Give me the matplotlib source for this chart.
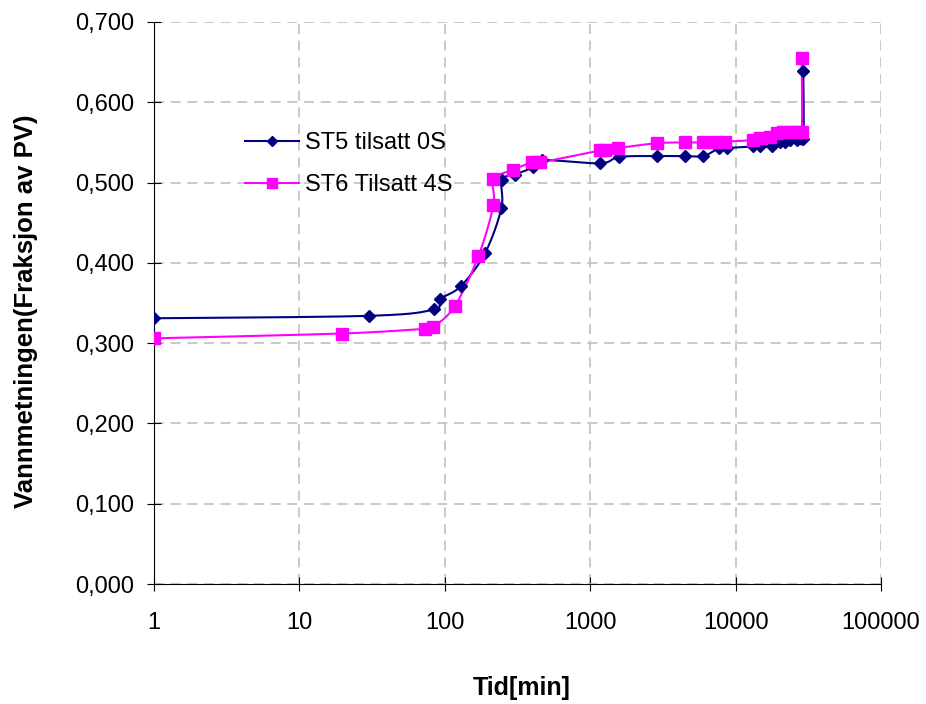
import numpy as np
import matplotlib
matplotlib.use("Agg")
import matplotlib.pyplot as plt
from matplotlib.ticker import FixedLocator, FuncFormatter, NullLocator

plt.rcParams['font.family'] = ['Liberation Sans', 'DejaVu Sans']

st5_t = [1, 30, 84, 93, 129, 189, 245, 247, 304, 404, 466, 1168, 1585, 2865, 4490, 5995,
         7730, 8690, 13250, 14700, 17700, 20200, 21700, 23700, 26400, 29200, 29200]
st5_s = [0.331, 0.334, 0.342, 0.355, 0.371, 0.412, 0.468, 0.503, 0.510, 0.519, 0.528, 0.524,
         0.532, 0.533, 0.533, 0.533, 0.543, 0.543, 0.545, 0.545, 0.545, 0.550, 0.551, 0.553,
         0.553, 0.554, 0.639]

st6_t = [1, 19.5, 73, 83, 117, 170, 216, 216, 296, 395, 452, 1168, 1260, 1560, 2865, 4490,
         5995, 7220, 8500, 13250, 14700, 17250, 19150, 21300, 23700, 26400, 28500, 28500]
st6_s = [0.306, 0.312, 0.318, 0.320, 0.346, 0.408, 0.472, 0.504, 0.516, 0.525, 0.525, 0.540,
         0.540, 0.543, 0.549, 0.550, 0.550, 0.551, 0.551, 0.553, 0.555, 0.557, 0.562, 0.563,
         0.563, 0.563, 0.563, 0.655]

labels = ['ST5 tilsatt 0S', 'ST6 Tilsatt 4S']
colors = ['#000080', '#FF00FF']

xlim = (1, 100000)
ylim = (0.0, 0.7)


def smooth(t, s, n=20):
    # Catmull-Rom smoothing in normalized (log x, y) space, like Excel's smoothed line
    u = np.log10(np.asarray(t, float)) / 5.0
    v = np.asarray(s, float) / 0.7
    P = np.column_stack([u, v])
    P = np.vstack([P[0], P, P[-1]])
    out = []
    for i in range(1, len(P) - 2):
        p0, p1, p2, p3 = P[i - 1], P[i], P[i + 1], P[i + 2]
        d = np.linalg.norm(p2 - p1)
        if d == 0:
            continue
        c1 = p1 + (p2 - p0) / 6.0
        c2 = p2 - (p3 - p1) / 6.0
        tt = np.linspace(0, 1, n)[:, None]
        seg = ((1 - tt) ** 3) * p1 + 3 * ((1 - tt) ** 2) * tt * c1 + 3 * (1 - tt) * tt ** 2 * c2 + tt ** 3 * p2
        out.append(seg)
    Q = np.vstack(out)
    return 10 ** (Q[:, 0] * 5.0), Q[:, 1] * 0.7


fig = plt.figure(figsize=(9.26, 7.04), dpi=100)
ax = fig.add_axes([154 / 926, 1 - 584 / 704, 727 / 926, 562 / 704])

for t, s, m, ms, c, lab in [(st5_t, st5_s, 'D', 6.5, colors[0], labels[0]),
                            (st6_t, st6_s, 's', 9.0, colors[1], labels[1])]:
    xs, ys = smooth(t, s)
    ax.plot(xs, ys, color=c, lw=1.5, zorder=3)
    ax.plot(t, s, linestyle='none', marker=m, ms=ms, color=c, zorder=4)
    ax.plot([], [], color=c, lw=1.5, marker=m, ms=ms * 0.85, label=lab)

ax.set_xscale('log')
ax.set_xlim(*xlim)
ax.set_ylim(*ylim)
ax.xaxis.set_major_locator(FixedLocator([1, 10, 100, 1000, 10000, 100000]))
ax.xaxis.set_minor_locator(NullLocator())
ax.xaxis.set_major_formatter(FuncFormatter(lambda v, p: f"{v:.0f}"))
ax.yaxis.set_major_locator(FixedLocator(np.arange(0, 0.701, 0.1)))
ax.yaxis.set_major_formatter(FuncFormatter(lambda v, p: f"{v:.3f}".replace('.', ',')))

ax.grid(True, color='#c0c0c0', linestyle=(0, (6, 4)), lw=1.2)
ax.spines['top'].set_visible(False)
ax.spines['right'].set_visible(False)
ax.spines['left'].set_color('black')
ax.spines['bottom'].set_color('black')
ax.tick_params(axis='both', direction='inout', length=10, labelsize=17, colors='black')
ax.tick_params(axis='y', pad=9)
ax.tick_params(axis='x', pad=15)

ax.set_xlabel('Tid[min]', fontsize=18, fontweight='bold')
ax.xaxis.set_label_coords(0.5058, -0.1637)
ax.set_ylabel('Vannmetningen(Fraksjon av PV)', fontsize=18.5, fontweight='bold')
ax.yaxis.set_label_coords(-0.160, 0.486)

ax.legend(loc='upper left', bbox_to_anchor=(0.125, 0.8045), frameon=False, fontsize=17,
          handlelength=2.3, handletextpad=0.25, labelspacing=0.87, borderpad=0, borderaxespad=0)

fig.savefig('out.png', dpi=100)
